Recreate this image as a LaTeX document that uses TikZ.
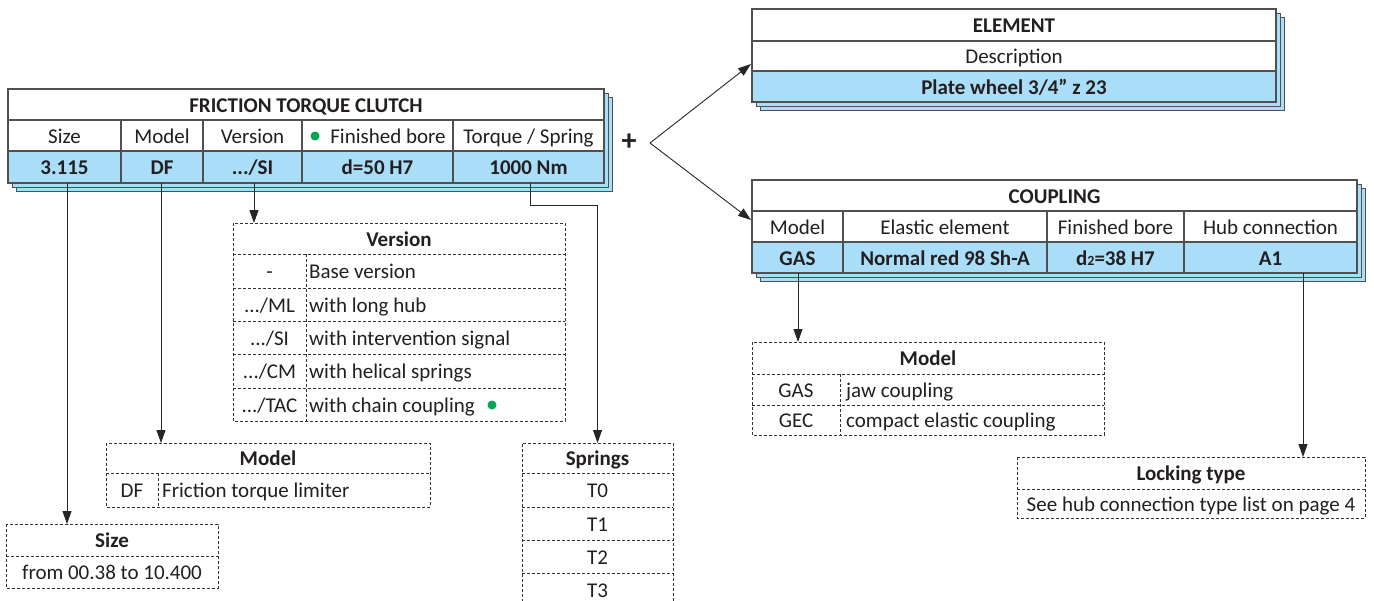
\documentclass[tikz,border=0pt]{standalone}
\usepackage{fontspec}
\setmainfont{Carlito}
\usetikzlibrary{arrows.meta}
\definecolor{vblue}{RGB}{170,222,248}
\definecolor{frm}{RGB}{80,80,80}
\definecolor{gdot}{RGB}{0,166,81}
\definecolor{ink}{RGB}{35,31,32}
\begin{document}
\begin{tikzpicture}[x=1pt,y=-1pt,
  font=\fontsize{21}{25}\selectfont, text=ink,
  frame/.style={draw=frm, line width=1.1pt},
  shadowbox/.style={draw=frm, fill=vblue, line width=0.8pt},
  dbox/.style={draw=black!80, dash pattern=on 3pt off 2pt, line width=0.8pt},
  cell/.style={inner sep=0pt, text height=19pt, text depth=4pt},
  lcell/.style={cell, anchor=west},
  arr/.style={draw=black!85, line width=0.9pt, -{Triangle[length=13pt,width=9pt]}},
  gd/.style={fill=gdot}]
\useasboundingbox (0,0) rectangle (1374,600);

% ---------- FRICTION TORQUE CLUTCH ----------
\foreach \d in {8,4} {\draw[shadowbox] (8+\d,89+\d) rectangle (604+\d,183+\d);}
\fill[white] (8,89) rectangle (604,151);
\fill[vblue] (8,151) rectangle (604,183);
\draw[frame] (8,89) rectangle (604,183);
\draw[frame] (8,120) -- (604,120) (8,151) -- (604,151);
\foreach \x in {121,203,302,453} {\draw[frame] (\x,120) -- (\x,183);}
\node[cell] (ftcT) at (306,104.5) {\textbf{FRICTION TORQUE CLUTCH}};
\node[cell] (hSize) at (64.5,135.5) {Size};
\node[cell] (hModel) at (162,135.5) {Model};
\node[cell] (hVersion) at (252.5,135.5) {Version};
\node[cell] (hBore) at (388,135.5) {Finished bore};
\fill[gd] (315,136) circle (4.5);
\node[cell] (hTorque) at (528.5,135.5) {Torque / Spring};
\node[cell] (vSize) at (64.5,167) {\textbf{3.115}};
\node[cell] (vModel) at (162,167) {\textbf{DF}};
\node[cell] (vVersion) at (252.5,167) {\textbf{.../SI}};
\node[cell] (vBore) at (377.5,167) {\textbf{d=50 H7}};
\node[cell] (vTorque) at (528.5,167) {\textbf{1000 Nm}};
\coordinate (sizeOut) at (67,183);
\coordinate (modelOut) at (161,183);
\coordinate (versionOut) at (254,183);
\coordinate (torqueOut) at (530,183);

% ---------- ELEMENT ----------
\foreach \d in {8,4} {\draw[shadowbox] (752+\d,9+\d) rectangle (1276+\d,102+\d);}
\fill[white] (752,9) rectangle (1276,71);
\fill[vblue] (752,71) rectangle (1276,102);
\draw[frame] (752,9) rectangle (1276,102);
\draw[frame] (752,41) -- (1276,41) (752,71) -- (1276,71);
\node[cell] (elemT) at (1014,25) {\textbf{ELEMENT}};
\node[cell] (elemD) at (1014,56) {Description};
\node[cell] (elemV) at (1014,86.5) {\textbf{Plate wheel 3/4” z 23}};
\coordinate (elemIn) at (751,64);

% ---------- COUPLING ----------
\foreach \d in {8,4} {\draw[shadowbox] (752+\d,180+\d) rectangle (1357+\d,273+\d);}
\fill[white] (752,180) rectangle (1357,242);
\fill[vblue] (752,242) rectangle (1357,273);
\draw[frame] (752,180) rectangle (1357,273);
\draw[frame] (752,211) -- (1357,211) (752,242) -- (1357,242);
\foreach \x in {843,1047,1184} {\draw[frame] (\x,211) -- (\x,273);}
\node[cell] (coupT) at (1054.5,195.5) {\textbf{COUPLING}};
\node[cell] (cModel) at (797.5,226.5) {Model};
\node[cell] (cElastic) at (945,226.5) {Elastic element};
\node[cell] (cBore) at (1115.5,226.5) {Finished bore};
\node[cell] (cHub) at (1270.5,226.5) {Hub connection};
\node[cell] (cGas) at (797.5,257.5) {\textbf{GAS}};
\node[cell] (cNormal) at (945,257.5) {\textbf{Normal red 98 Sh-A}};
\node[cell] (cD2) at (1115.5,257.5) {\textbf{d{\fontsize{14}{14}\selectfont 2}=38 H7}};
\node[cell] (cA1) at (1270.5,257.5) {\textbf{A1}};
\coordinate (coupIn) at (751,220);
\coordinate (gasOut) at (798,273);
\coordinate (hubOut) at (1303,273);

% ---------- plus and split ----------
\node[inner sep=0pt, font=\fontsize{30}{30}\selectfont\bfseries] (plus) at (629,142) {+};
\coordinate (split) at (650,143);
\draw[arr] (split) -- (elemIn);
\draw[arr] (split) -- (coupIn);

% ---------- Version table ----------
\draw[dbox] (233,223) rectangle (565,421);
\foreach \y in {254,288,321,354,388} {\draw[dbox] (233,\y) -- (565,\y);}
\draw[dbox] (306,254) -- (306,421);
\node[cell] (verT) at (399,238.5) {\textbf{Version}};
\node[cell] (ver1a) at (269.5,271) {-};
\node[lcell] (ver1b) at (309,271) {Base version};
\node[cell] (ver2a) at (269.5,304.5) {.../ML};
\node[lcell] (ver2b) at (309,304.5) {with long hub};
\node[cell] (ver3a) at (269.5,337.5) {.../SI};
\node[lcell] (ver3b) at (309,337.5) {with intervention signal};
\node[cell] (ver4a) at (269.5,371) {.../CM};
\node[lcell] (ver4b) at (309,371) {with helical springs};
\node[cell] (ver5a) at (269.5,404.5) {.../TAC};
\node[lcell] (ver5b) at (309,404.5) {with chain coupling};
\fill[gd] (492,405) circle (4.5);

% ---------- Model (DF) ----------
\draw[dbox] (106,443) rectangle (430,507);
\draw[dbox] (106,473) -- (430,473);
\draw[dbox] (158,473) -- (158,507);
\node[cell] (modT) at (268,458) {\textbf{Model}};
\node[cell] (modDF) at (132,490) {DF};
\node[lcell] (modDFd) at (162,490) {Friction torque limiter};

% ---------- Size ----------
\draw[dbox] (6,524) rectangle (218,588);
\draw[dbox] (6,556) -- (218,556);
\node[cell] (sizeT) at (112,540) {\textbf{Size}};
\node[cell] (sizeV) at (112,572) {from 00.38 to 10.400};

% ---------- Springs ----------
\draw[dbox] (522,612) -- (522,443) -- (673,443) -- (673,612);
\foreach \y in {473,507,540,573} {\draw[dbox] (522,\y) -- (673,\y);}
\node[cell] (sprT) at (597.5,458) {\textbf{Springs}};
\node[cell] (spr0) at (597.5,490) {T0};
\node[cell] (spr1) at (597.5,523.5) {T1};
\node[cell] (spr2) at (597.5,556.5) {T2};
\node[cell] (spr3) at (597.5,589.5) {T3};

% ---------- Model (coupling) ----------
\draw[dbox] (752,342) rectangle (1104,435);
\draw[dbox] (752,374) -- (1104,374) (752,405) -- (1104,405);
\draw[dbox] (840,374) -- (840,435);
\node[cell] (cmT) at (928,358) {\textbf{Model}};
\node[cell] (cmGas) at (796,389.5) {GAS};
\node[lcell] (cmGasD) at (846,389.5) {jaw coupling};
\node[cell] (cmGec) at (796,420) {GEC};
\node[lcell] (cmGecD) at (846,420) {compact elastic coupling};

% ---------- Locking type ----------
\draw[dbox] (1017,457) rectangle (1365,518);
\draw[dbox] (1017,489) -- (1365,489);
\node[cell] (lockT) at (1191,473) {\textbf{Locking type}};
\node[cell] (lockV) at (1191,503.5) {See hub connection type list on page 4};

% ---------- connectors ----------
\coordinate (sizeIn) at (67,524);
\coordinate (modelIn) at (161,443);
\coordinate (versionIn) at (254,223);
\coordinate (springIn) at (597.5,443);
\coordinate (cmIn) at (798,342);
\coordinate (lockIn) at (1303,457);
\draw[arr] (sizeOut) -- (sizeIn);
\draw[arr] (modelOut) -- (modelIn);
\draw[arr] (versionOut) -- (versionIn);
\draw[arr] (torqueOut) -- (530,205) -| (springIn);
\draw[arr] (gasOut) -- (cmIn);
\draw[arr] (hubOut) -- (lockIn);
\end{tikzpicture}
\end{document}
